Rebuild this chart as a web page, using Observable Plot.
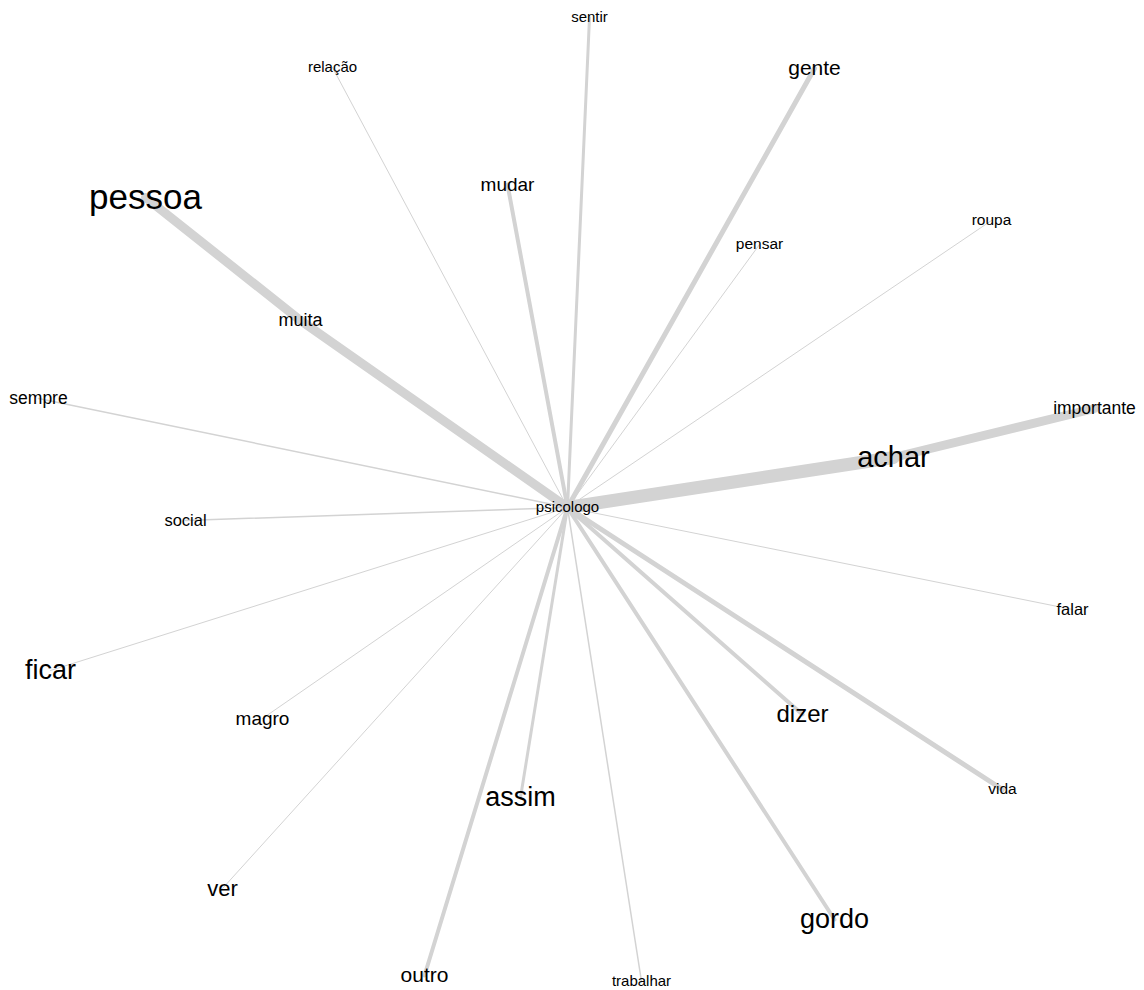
<!DOCTYPE html>
<html>
<head>
<meta charset="utf-8">
<script src="https://cdn.jsdelivr.net/npm/d3@7"></script>
<script src="https://cdn.jsdelivr.net/npm/@observablehq/plot@0.6"></script>
<style>
  html, body { margin: 0; padding: 0; background: #fff; }
  #chart svg { display: block; }
</style>
</head>
<body>
<div id="chart"></div>
<script>
// Node words and their layout coordinates
const words = ["psicologo","sentir","relação","gente","mudar","pessoa","muita","pensar","roupa","importante","achar","sempre","social","falar","ficar","magro","dizer","vida","assim","ver","gordo","outro","trabalhar"];
const nodeX = [567,589,332,814,507,145,300,759,991,1094,893,38,185,1072,50,262,802,1002,520,222,834,424,641];
const nodeY = [507,17,67,68,184,197,320,244,220,408,457,398,520,609,670,718,714,789,797,888,919,975,981];
const labelSize = [15,15,15,21,19,35,18,15.5,15.5,17.5,29,17.5,16.5,16.5,27,19,24,15.5,27,22,27,21,15];

// Edges (source, target, weight)
const edgeSource = ["psicologo","psicologo","psicologo","psicologo","psicologo","muita","psicologo","psicologo","psicologo","achar","psicologo","psicologo","psicologo","psicologo","psicologo","psicologo","psicologo","psicologo","psicologo","psicologo","psicologo","psicologo"];
const edgeTarget = ["sentir","relação","gente","mudar","muita","pessoa","pensar","roupa","achar","importante","sempre","social","falar","ficar","magro","dizer","vida","assim","ver","gordo","outro","trabalhar"];
const edgeWeight = [3,1,5,4,9,9,1,1,13,9,1.5,1.5,1,1,1,4,5,3,1,4,4,1.5];

const nodes = words.map((w, i) => ({word: w, x: nodeX[i], y: nodeY[i], size: labelSize[i]}));
const pos = new Map(nodes.map(n => [n.word, n]));
const edges = edgeSource.map((s, i) => ({
  x1: pos.get(s).x, y1: pos.get(s).y,
  x2: pos.get(edgeTarget[i]).x, y2: pos.get(edgeTarget[i]).y,
  w: edgeWeight[i]
}));

const chart = Plot.plot({
  width: 1144,
  height: 990,
  margin: 0,
  x: {domain: [0, 1144], range: [0, 1144], axis: null},
  y: {domain: [0, 990], range: [0, 990], axis: null},
  strokeWidth: {type: "identity"},
  style: {fontFamily: "'Liberation Sans', Arial, sans-serif", background: "#fff"},
  marks: [
    Plot.link(edges, {x1: "x1", y1: "y1", x2: "x2", y2: "y2", stroke: "#d3d3d3", strokeWidth: "w", strokeLinecap: "round"}),
    Plot.text(nodes, {x: "x", y: "y", text: "word", fontSize: "size", fill: "#000", textAnchor: "middle", lineAnchor: "middle"})
  ]
});
document.getElementById("chart").appendChild(chart);
</script>
</body>
</html>
